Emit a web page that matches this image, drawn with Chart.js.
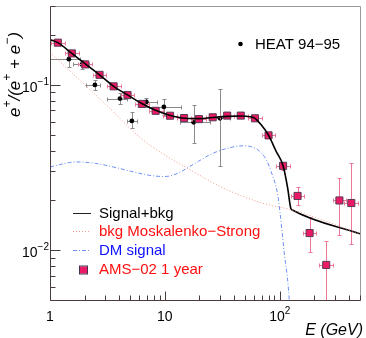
<!DOCTYPE html>
<html>
<head>
<meta charset="utf-8">
<script src="https://cdn.jsdelivr.net/npm/chart.js@4.4.1/dist/chart.umd.min.js"></script>
<style>
    html, body { margin: 0; padding: 0; background: #fff; }
    canvas { display: block; }
</style>
</head>
<body>
<canvas id="myChart" width="366" height="338"></canvas>
<script>
// AMS-02 1 year (projected points)
const amsE  = [1.17, 1.55, 2.03, 2.70, 3.58, 4.73, 6.30, 8.31, 11.1, 14.7, 19.8, 26.1, 34.9, 45.8, 60.9, 79.9, 107, 143, 182, 254, 331, 420];
const amsF  = [0.180, 0.155, 0.133, 0.115, 0.098, 0.0868, 0.0767, 0.0697, 0.0651, 0.0630, 0.0621, 0.0637, 0.0652, 0.0652, 0.0628, 0.0495, 0.0324, 0.0213, 0.0127, 0.00815, 0.0200, 0.0193];
const amsLo = [0.175, 0.151, 0.129, 0.112, 0.0955, 0.0845, 0.0747, 0.0679, 0.0634, 0.0614, 0.0605, 0.0621, 0.0635, 0.0635, 0.0611, 0.0478, 0.0307, 0.0188, 0.00973, 0.004, 0.0124, 0.0109];
const amsHi = [0.185, 0.159, 0.137, 0.118, 0.1005, 0.0891, 0.0787, 0.0715, 0.0668, 0.0646, 0.0637, 0.0653, 0.0669, 0.0669, 0.0645, 0.0512, 0.0341, 0.0240, 0.0159, 0.0114, 0.0275, 0.0337];
const amsXErr = 0.06; // half width in log10(E)

// HEAT 94-95
const heatE   = [1.46, 1.90, 2.46, 4.07, 5.16, 6.90, 9.8, 17.8, 30.2];
const heatF   = [0.143, 0.133, 0.100, 0.0826, 0.0605, 0.0789, 0.0736, 0.0594, 0.0628];
const heatFLo = [0.128, 0.125, 0.0934, 0.077, 0.0547, 0.074, 0.0654, 0.0446, 0.0321];
const heatFHi = [0.157, 0.141, 0.107, 0.0896, 0.069, 0.0837, 0.0826, 0.0753, 0.0938];
const heatELo = [1.0, 1.6, 2.07, 3.16, 4.70, 5.96, 7.3, 13.6, 24.8];
const heatEHi = [1.81, 2.2, 2.70, 4.70, 5.73, 8.6, 13.7, 24.8, 37];

// Signal+bkg
const sigE = [1, 1.17, 1.55, 2.03, 2.7, 3.58, 4.73, 6.3, 8.3, 11, 15, 20, 26, 35, 46, 55, 61, 69, 80, 93, 107, 117, 125, 129, 500];
const sigF = [0.188, 0.180, 0.155, 0.134, 0.115, 0.098, 0.087, 0.0772, 0.0702, 0.0655, 0.0628, 0.0625, 0.0635, 0.0645, 0.0648, 0.0642, 0.0628, 0.0573, 0.0495, 0.0397, 0.0324, 0.024, 0.0179, 0.0175, 0.01256];

// bkg Moskalenko-Strong
const bkgE = [1, 2.88, 6.17, 8.88, 17.2, 33.4, 73.8, 129, 500];
const bkgF = [0.157, 0.0792, 0.0477, 0.0397, 0.0302, 0.0235, 0.0191, 0.0175, 0.01256];

// DM signal
const dmE = [1, 1.7, 2.5, 3.76, 5.5, 7.3, 10, 13, 16.1, 19.6, 25, 33.4, 48, 64.5, 76, 84, 96.4, 100.5, 109, 121, 125];
const dmF = [0.0319, 0.0342, 0.0335, 0.0316, 0.0296, 0.0284, 0.0279, 0.0292, 0.0318, 0.0345, 0.038, 0.041, 0.0428, 0.0405, 0.0355, 0.030, 0.0214, 0.017, 0.0099, 0.005, 0.003];

const xTickLabels = ["1", "10", "10^2"];
const yTickLabels = ["10^-2", "10^-1"];

const FONT = "'Liberation Sans', Arial, Helvetica, sans-serif";
const AMS_FILL = "#ec1a64";
const AMS_LINE = "#ec7898";
const BKG_COLOR = "#f39a88";
const DM_COLOR = "#7090f5";

const pts = (xs, ys) => xs.map((v, i) => ({ x: v, y: ys[i] }));

// draws text with ^ superscripts
function drawRich(ctx, str, x, y, size, align, italic) {
    const parts = str.split("^");
    const base = parts[0];
    const sup = parts[1] ? parts[1].replace("-", "\u2212") : "";
    const st = italic ? "italic " : "";
    ctx.font = st + size + "px " + FONT;
    const wb = ctx.measureText(base).width;
    ctx.font = st + Math.round(size * 0.72) + "px " + FONT;
    const ws = ctx.measureText(sup).width;
    const w = wb + ws;
    let x0 = x;
    if (align === "center") x0 = x - w / 2;
    if (align === "right") x0 = x - w;
    ctx.textAlign = "left";
    ctx.textBaseline = "alphabetic";
    ctx.font = st + size + "px " + FONT;
    ctx.fillText(base, x0, y);
    if (sup) {
        ctx.font = st + Math.round(size * 0.72) + "px " + FONT;
        ctx.fillText(sup, x0 + wb, y - size * 0.5);
    }
}

const errorBars = {
    id: "errorBars",
    beforeDatasetDraw(chart, args) {
        const { ctx, chartArea: a, scales: { x, y } } = chart;
        const lbl = chart.data.datasets[args.index].label;
        if (lbl !== "AMS" && lbl !== "HEAT") return;
        ctx.save();
        ctx.beginPath();
        ctx.rect(a.left, a.top, a.right - a.left, a.bottom - a.top);
        ctx.clip();
        ctx.lineWidth = 1;
        const n = lbl === "AMS" ? amsE.length : heatE.length;
        ctx.strokeStyle = lbl === "AMS" ? AMS_LINE : "#8a8a8a";
        for (let i = 0; i < n; i++) {
            let e, f, lo, hi, el, eh;
            if (lbl === "AMS") {
                e = amsE[i]; f = amsF[i]; lo = amsLo[i]; hi = amsHi[i];
                el = e / Math.pow(10, amsXErr); eh = e * Math.pow(10, amsXErr);
            } else {
                e = heatE[i]; f = heatF[i]; lo = heatFLo[i]; hi = heatFHi[i];
                el = heatELo[i]; eh = heatEHi[i];
            }
            const px = Math.round(x.getPixelForValue(e)) + 0.5;
            const py = Math.round(y.getPixelForValue(f)) + 0.5;
            const pl = Math.round(y.getPixelForValue(lo)) + 0.5;
            const ph = Math.round(y.getPixelForValue(hi)) + 0.5;
            const xl = Math.round(x.getPixelForValue(el)) + 0.5;
            const xh = Math.round(x.getPixelForValue(eh)) + 0.5;
            ctx.beginPath();
            ctx.moveTo(px, pl); ctx.lineTo(px, ph);
            ctx.moveTo(xl, py); ctx.lineTo(xh, py);
            // little end caps
            ctx.moveTo(px - 2, pl); ctx.lineTo(px + 2, pl);
            ctx.moveTo(px - 2, ph); ctx.lineTo(px + 2, ph);
            ctx.moveTo(xl, py - 2); ctx.lineTo(xl, py + 2);
            ctx.moveTo(xh, py - 2); ctx.lineTo(xh, py + 2);
            ctx.stroke();
        }
        ctx.restore();
    }
};

const frameAndTicks = {
    id: "frameAndTicks",
    afterDraw(chart) {
        const { ctx, chartArea: a, scales: { x, y } } = chart;
        ctx.save();
        const L = Math.round(a.left) + 0.5, R = Math.round(a.right) + 0.5;
        const T = Math.round(a.top) + 0.5, B = Math.round(a.bottom) + 0.5;
        // frame top / right
        ctx.strokeStyle = "#9a9a9a";
        ctx.lineWidth = 1;
        ctx.beginPath();
        ctx.moveTo(L, T); ctx.lineTo(R, T); ctx.lineTo(R, B);
        ctx.stroke();
        // axes
        ctx.strokeStyle = "#4a3c3c";
        ctx.beginPath();
        ctx.moveTo(L, T); ctx.lineTo(L, B); ctx.lineTo(R, B);
        ctx.stroke();

        // x ticks
        ctx.beginPath();
        [1, 10, 100].forEach((d) => {
            for (let k = 1; k <= 9; k++) {
                const v = k * d;
                if (v > x.max) break;
                const px = Math.round(x.getPixelForValue(v)) + 0.5;
                ctx.moveTo(px, B);
                ctx.lineTo(px, B - (k === 1 ? 9 : 5));
            }
        });
        // y ticks
        [0.001, 0.01, 0.1].forEach((d) => {
            for (let k = 1; k <= 9; k++) {
                const v = k * d;
                if (v < y.min - 1e-9 || v > y.max + 1e-9) continue;
                const py = Math.round(y.getPixelForValue(v)) + 0.5;
                ctx.moveTo(L, py);
                ctx.lineTo(L + (k === 1 ? 10 : 5), py);
            }
        });
        ctx.stroke();

        // tick labels
        ctx.fillStyle = "#000";
        [1, 10, 100].forEach((v, i) => {
            const px = x.getPixelForValue(v);
            drawRich(ctx, xTickLabels[i], px, 321, 14, "center", false);
        });
        [0.01, 0.1].forEach((v, i) => {
            const py = y.getPixelForValue(v);
            drawRich(ctx, yTickLabels[i], 49, py + 7, 14, "right", false);
        });

        // axis titles
        ctx.font = "italic 16px " + FONT;
        ctx.textAlign = "right";
        ctx.textBaseline = "alphabetic";
        ctx.fillText("E (GeV)", 363, 335);

        ctx.save();
        ctx.translate(20, 117);
        ctx.rotate(-Math.PI / 2);
        const segs = [["e", 0], ["+", 1], ["/(e", 0], ["+", 1], [" + e", 0], ["\u2212", 1], [")", 0]];
        let cx = 0;
        segs.forEach(([t, s]) => {
            ctx.font = "italic " + (s ? 12 : 17) + "px " + FONT;
            ctx.textAlign = "left";
            ctx.fillText(t, cx, s ? -9 : 0);
            cx += ctx.measureText(t).width;
        });
        ctx.restore();

        // legend (bottom left)
        const lx0 = 73, lx1 = 91, tx = 99;
        ctx.lineWidth = 1;
        ctx.strokeStyle = "#222";
        ctx.beginPath(); ctx.moveTo(lx0, 213.5); ctx.lineTo(lx1, 213.5); ctx.stroke();
        ctx.strokeStyle = BKG_COLOR;
        ctx.setLineDash([1, 2]);
        ctx.beginPath(); ctx.moveTo(lx0, 231.5); ctx.lineTo(lx1, 231.5); ctx.stroke();
        ctx.strokeStyle = DM_COLOR;
        ctx.setLineDash([4, 2, 1, 2]);
        ctx.beginPath(); ctx.moveTo(lx0, 250.5); ctx.lineTo(lx1, 250.5); ctx.stroke();
        ctx.setLineDash([]);
        ctx.fillStyle = AMS_FILL;
        ctx.strokeStyle = "#4a3050";
        ctx.fillRect(80, 266.5, 7, 7);
        ctx.strokeRect(79.5, 266, 8, 8);

        ctx.font = "15px " + FONT;
        ctx.textAlign = "left";
        ctx.textBaseline = "middle";
        ctx.fillStyle = "#000";
        ctx.fillText("Signal+bkg", tx, 214);
        ctx.fillStyle = "#ff1010";
        ctx.fillText("bkg Moskalenko\u2212Strong", tx, 232);
        ctx.fillStyle = "#1010ff";
        ctx.fillText("DM signal", tx, 251);
        ctx.fillStyle = "#ff1010";
        ctx.fillText("AMS\u221202 1 year", tx, 270);

        // legend (top right)
        ctx.fillStyle = "#000";
        ctx.beginPath(); ctx.arc(240.5, 44, 2.3, 0, Math.PI * 2); ctx.fill();
        ctx.fillText("HEAT 94\u221295", 255, 45);
        ctx.restore();
    }
};

new Chart(document.getElementById("myChart"), {
    type: "scatter",
    data: {
        datasets: [
            {
                label: "bkg",
                data: pts(bkgE, bkgF),
                showLine: true,
                pointRadius: 0,
                borderColor: BKG_COLOR,
                borderWidth: 1,
                borderDash: [1, 2],
                cubicInterpolationMode: "monotone",
                clip: 0,
            },
            {
                label: "DM",
                data: pts(dmE, dmF),
                showLine: true,
                pointRadius: 0,
                borderColor: DM_COLOR,
                borderWidth: 1,
                borderDash: [4, 2, 1, 2],
                cubicInterpolationMode: "monotone",
                clip: 0,
            },
            {
                label: "Signal+bkg",
                data: pts(sigE, sigF),
                showLine: true,
                pointRadius: 0,
                borderColor: "#000",
                borderWidth: 1.6,
                cubicInterpolationMode: "monotone",
                clip: 0,
            },
            {
                label: "AMS",
                data: pts(amsE, amsF),
                pointStyle: "rect",
                pointRadius: 5,
                pointBackgroundColor: AMS_FILL,
                pointBorderColor: "#5a3a55",
                pointBorderWidth: 1,
                clip: 0,
            },
            {
                label: "HEAT",
                data: pts(heatE, heatF),
                pointStyle: "circle",
                pointRadius: 2.4,
                pointBackgroundColor: "#000",
                pointBorderColor: "#000",
                pointBorderWidth: 0,
                clip: 0,
            },
        ],
    },
    options: {
        responsive: false,
        animation: false,
        layout: { padding: { left: 50, top: 1, right: 3, bottom: 38 } },
        plugins: { legend: { display: false }, tooltip: { enabled: false } },
        scales: {
            x: { type: "logarithmic", min: 1, max: 500, display: false },
            y: { type: "logarithmic", min: 0.005, max: 0.3, display: false },
        },
    },
    plugins: [errorBars, frameAndTicks],
});
</script>
</body>
</html>
